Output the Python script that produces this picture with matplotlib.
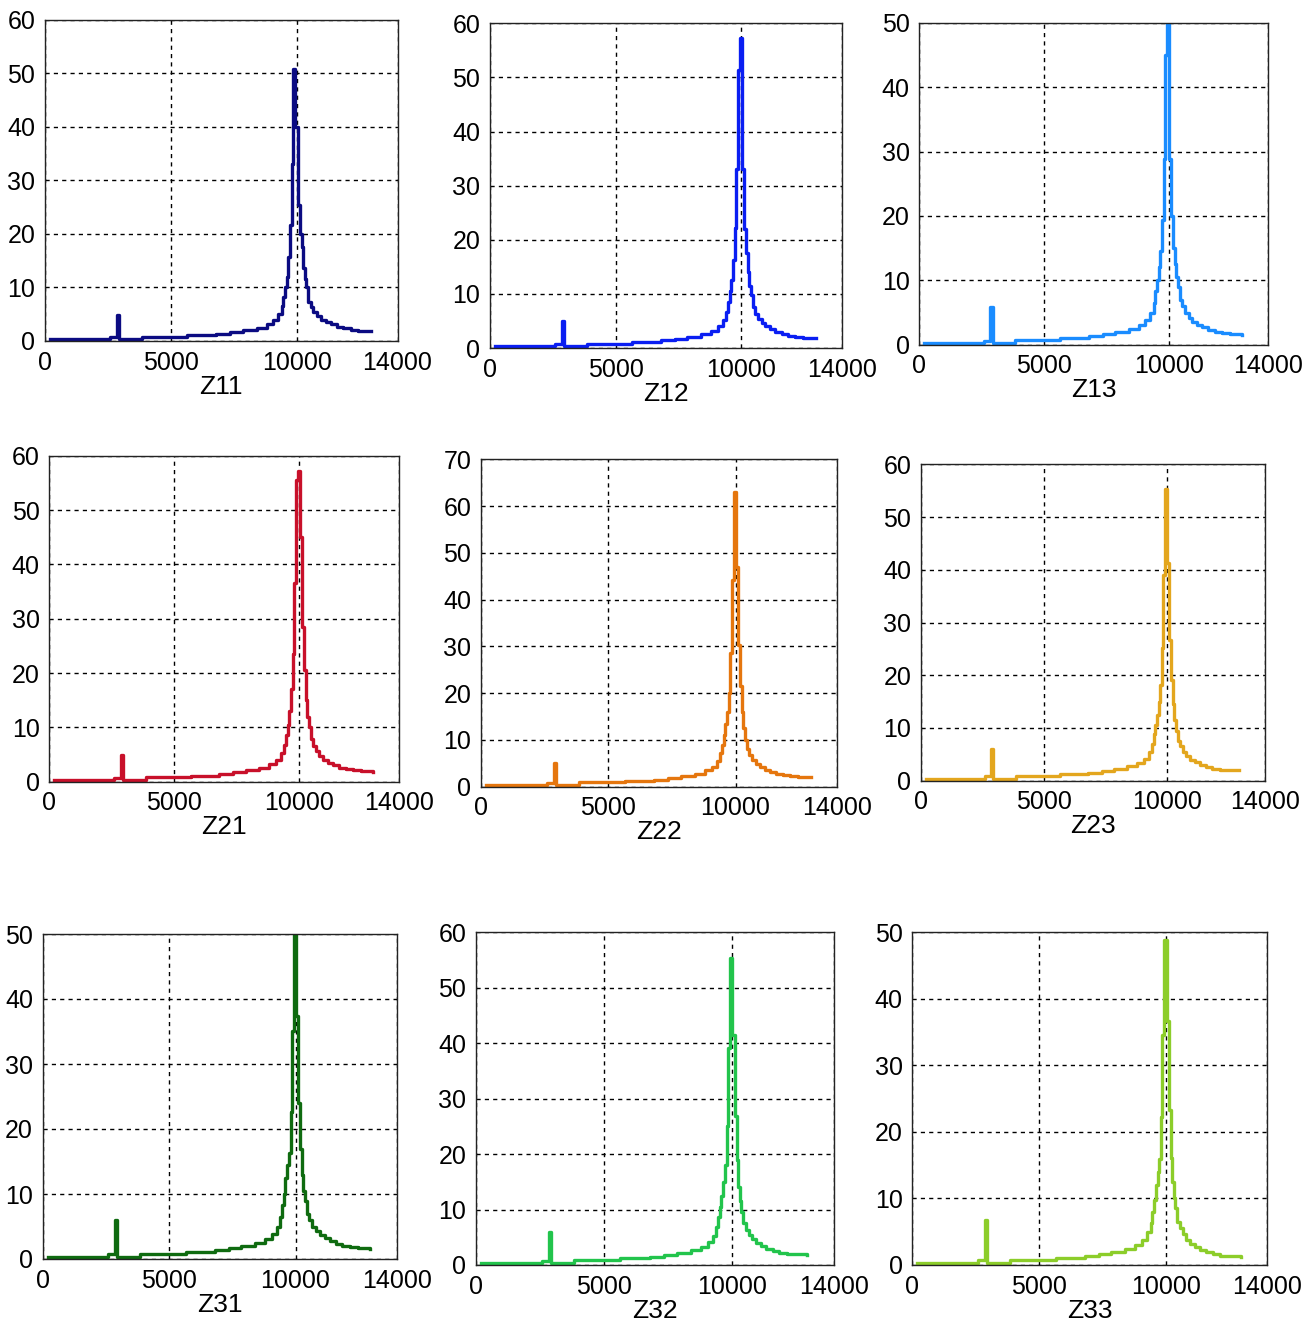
import matplotlib
matplotlib.use("Agg")
import matplotlib.pyplot as plt

plt.rcParams['font.family'] = ['Liberation Sans', 'DejaVu Sans']

# frequency bins (Hz), shared by all nine responses
freq = [200, 2600, 2850, 2950, 3850, 5650, 6800, 7350, 7850, 8400,
        8800, 9070, 9270, 9400, 9470, 9530, 9600, 9670, 9730, 9800,
        9860, 9940, 10030, 10110, 10190, 10260, 10310, 10370, 10450, 10550,
        10660, 10800, 10950, 11150, 11350, 11600, 11850, 12150, 12450, 12950]

z11 = [0.3, 0.75, 4.8, 0.3, 0.8, 1.1, 1.35, 1.7, 2.0, 2.5,
       3.1, 3.9, 5.0, 6.5, 8.3, 10.0, 12.0, 15.7, 21.6, 33.1,
       50.8, 40.0, 25.3, 20.0, 17.6, 13.6, 11.5, 10.1, 7.3, 6.3,
       5.5, 4.6, 4.0, 3.6, 3.1, 2.7, 2.35, 2.1, 1.9, 1.86]
z12 = [0.3, 0.7, 4.9, 0.3, 0.8, 1.1, 1.4, 1.7, 2.1, 2.6,
       3.2, 4.0, 5.2, 6.7, 8.5, 10.5, 12.5, 16.3, 22.1, 33.0,
       51.4, 57.2, 33.0, 22.0, 17.5, 14.0, 11.5, 9.8, 7.5, 6.3,
       5.4, 4.6, 4.0, 3.5, 3.0, 2.6, 2.3, 2.1, 1.9, 1.8]
z13 = [0.3, 0.6, 5.8, 0.3, 0.7, 1.0, 1.3, 1.6, 2.0, 2.5,
       3.0, 3.8, 5.0, 6.5, 8.3, 10.0, 12.0, 14.5, 19.4, 28.8,
       45.0, 50.5, 28.8, 20.0, 15.0, 12.5, 10.5, 9.0, 7.0, 6.0,
       5.0, 4.2, 3.6, 3.1, 2.7, 2.3, 2.0, 1.8, 1.6, 1.5]
z21 = [0.3, 0.7, 4.9, 0.3, 0.8, 1.1, 1.4, 1.7, 2.1, 2.6,
       3.2, 4.0, 5.2, 6.8, 8.6, 10.5, 13.0, 17.0, 23.5, 36.5,
       55.5, 57.1, 45.0, 28.5, 20.5, 15.0, 12.0, 10.0, 7.8, 6.5,
       5.6, 4.7, 4.0, 3.5, 3.0, 2.6, 2.3, 2.1, 1.95, 1.85]
z22 = [0.3, 0.8, 5.0, 0.3, 0.9, 1.2, 1.5, 1.8, 2.3, 2.8,
       3.5, 4.3, 5.6, 7.2, 9.0, 11.0, 13.5, 16.0, 20.0, 28.5,
       44.2, 63.1, 47.0, 30.3, 21.6, 16.0, 12.5, 10.0, 8.0, 6.8,
       5.8, 4.9, 4.2, 3.6, 3.2, 2.8, 2.5, 2.3, 2.1, 2.1]
z23 = [0.3, 0.8, 6.1, 0.3, 0.9, 1.2, 1.5, 1.8, 2.2, 2.8,
       3.4, 4.2, 5.5, 7.0, 8.8, 10.5, 12.5, 15.0, 18.1, 25.1,
       39.0, 55.4, 41.3, 26.7, 19.1, 14.5, 11.5, 9.5, 7.6, 6.5,
       5.5, 4.7, 4.0, 3.5, 3.0, 2.6, 2.3, 2.1, 2.0, 2.0]
z31 = [0.3, 0.7, 6.0, 0.3, 0.8, 1.1, 1.4, 1.7, 2.0, 2.5,
       3.1, 3.9, 5.0, 6.5, 8.3, 10.0, 12.5, 14.5, 16.3, 22.6,
       35.1, 50.5, 37.4, 24.0, 17.0, 13.0, 10.5, 9.0, 7.0, 6.0,
       5.0, 4.3, 3.7, 3.2, 2.7, 2.3, 2.0, 1.8, 1.7, 1.6]
z32 = [0.3, 0.8, 6.0, 0.3, 0.9, 1.2, 1.5, 1.8, 2.2, 2.7,
       3.3, 4.1, 5.3, 6.8, 8.6, 10.5, 12.5, 15.0, 18.0, 25.0,
       39.1, 55.4, 41.4, 26.8, 18.9, 14.0, 11.5, 9.5, 7.5, 6.3,
       5.4, 4.6, 4.0, 3.4, 2.9, 2.5, 2.2, 2.0, 1.9, 1.8]
z33 = [0.3, 0.75, 6.8, 0.3, 0.7, 1.0, 1.3, 1.6, 1.9, 2.4,
       3.0, 3.8, 5.0, 6.3, 8.0, 9.8, 12.0, 14.0, 16.0, 22.3,
       34.5, 48.8, 36.6, 23.3, 16.1, 12.5, 10.0, 8.5, 6.5, 5.5,
       4.6, 3.8, 3.2, 2.7, 2.3, 1.9, 1.6, 1.4, 1.3, 1.25]

names = ['Z11', 'Z12', 'Z13', 'Z21', 'Z22', 'Z23', 'Z31', 'Z32', 'Z33']
series = [z11, z12, z13, z21, z22, z23, z31, z32, z33]
ymax = [60, 60, 50, 60, 70, 60, 50, 60, 50]
xticks = [0, 5000, 10000, 14000]

colors = ['#0b0b82', '#0a1ef2', '#1a8cff', '#c8102a', '#e5760e',
          '#e3a61e', '#0f6b10', '#22c44c', '#8ccd2a']

# axes boxes in pixels: left, right, top, bottom
boxes = [(45, 397.5, 19.5, 341), (490, 842, 23.3, 348), (919.3, 1268.3, 22.7, 344.7),
         (49.3, 399.3, 455.7, 781.7), (481, 837.3, 459.3, 786.7), (921, 1265, 464.3, 780.7),
         (42.7, 396.7, 934, 1259), (476, 834, 932.3, 1265), (912.3, 1267.3, 932.3, 1265)]

W, H = 1308, 1327
fig = plt.figure(figsize=(W / 100, H / 100), dpi=100)

for name, amp, top, col, (l, r, t, b) in zip(names, series, ymax, colors, boxes):
    ax = fig.add_axes([l / W, 1 - b / H, (r - l) / W, (b - t) / H])
    ax.plot(freq, amp, drawstyle='steps-post', color=col, lw=2.4)
    ax.set_xlim(0, 14000)
    ax.set_ylim(0, top)
    ax.set_xticks(xticks)
    ax.set_yticks(range(0, top + 1, 10))
    ax.grid(True, color='black', linestyle=(0, (3, 3)), lw=1.0)
    ax.tick_params(direction='in', length=0, labelsize=18, pad=7)
    ax.set_xlabel(name, fontsize=19, labelpad=0)
    for s in ax.spines.values():
        s.set_linewidth(1.0)
        s.set_color('#222222')

fig.savefig('out.png', dpi=100)
